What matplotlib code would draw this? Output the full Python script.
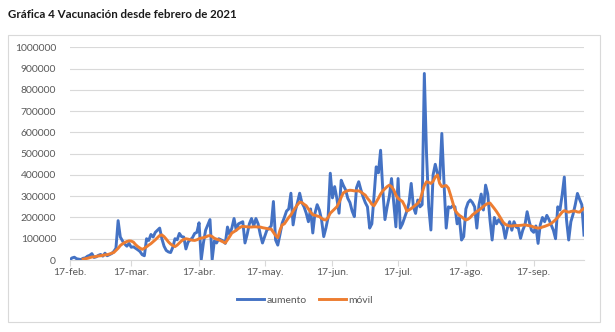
import matplotlib
matplotlib.use("Agg")
import matplotlib.pyplot as plt
import matplotlib.patches as mpatches
import pandas as pd
import numpy as np

start_date = "2021-02-17"

# daily increase (aumento), Feb 17 .. Oct 10, 2021
aumento = [
    2, 10, 13, 6, 4, 2, 8, 10, 18, 22,
    30, 12, 15, 22, 26, 18, 32, 20, 25, 30,
    40, 55, 185, 108, 90, 75, 65, 78, 60, 62,
    55, 48, 40, 25, 20, 100, 92, 120, 108, 130,
    140, 150, 100, 65, 45, 38, 35, 60, 100, 95,
    125, 110, 108, 52, 85, 95, 105, 125, 130, 175,
    2, 80, 140, 165, 190, 2, 90, 80, 100, 95,
    90, 78, 155, 120, 150, 195, 140, 170, 175, 180,
    80, 120, 170, 195, 160, 195, 170, 120, 80, 110,
    140, 150, 160, 275, 94, 70, 120, 173, 200, 230,
    240, 314, 165, 230, 270, 314, 270, 250, 220, 180,
    240, 127, 220, 260, 235, 190, 110, 150, 200, 408,
    292, 345, 290, 220, 375, 350, 330, 290, 270, 230,
    204, 340, 368, 330, 297, 270, 250, 150, 170, 300,
    438, 410, 516, 330, 190, 250, 300, 383, 270, 156,
    383, 150, 170, 200, 230, 270, 360, 250, 219, 282,
    250, 260, 877, 500, 250, 141, 400, 450, 405, 380,
    595, 360, 150, 250, 245, 255, 250, 170, 200, 94,
    110, 240, 270, 282, 270, 250, 150, 260, 310, 235,
    352, 310, 190, 94, 200, 170, 190, 175, 160, 102,
    150, 180, 140, 180, 155, 150, 102, 140, 165, 227,
    180, 140, 130, 160, 78, 165, 200, 180, 210, 190,
    165, 140, 100, 250, 235, 305, 390, 190, 94, 180,
    215, 260, 313, 285, 260, 117,
]
aumento = [v * 1000 for v in aumento]

# 7-day moving average (movil), starts on the 7th day
movil_offset = 6
movil = [
    4, 6, 8, 11, 14, 15, 17, 19, 20, 22,
    24, 25, 28, 32, 35, 45, 55, 68, 76, 82,
    87, 90, 89, 84, 72, 63, 56, 50, 55, 62,
    70, 77, 86, 95, 105, 115, 118, 110, 98, 85,
    75, 68, 63, 70, 80, 90, 97, 100, 98, 95,
    93, 92, 95, 100, 103, 105, 108, 113, 115, 110,
    102, 98, 95, 90, 85, 80, 95, 110, 127, 133,
    140, 148, 155, 158, 157, 156, 155, 155, 156, 156,
    155, 155, 152, 150, 148, 146, 145, 130, 115, 105,
    140, 165, 170, 185, 200, 212, 230, 245, 260, 272,
    270, 262, 255, 240, 225, 213, 210, 207, 204, 196,
    190, 188, 200, 220, 230, 240, 250, 270, 295, 316,
    322, 326, 328, 327, 325, 325, 325, 320, 312, 305,
    290, 278, 262, 255, 272, 290, 310, 325, 335, 345,
    352, 345, 330, 305, 290, 282, 275, 255, 230, 235,
    242, 250, 258, 266, 280, 315, 350, 368, 365, 360,
    370, 390, 400, 360, 345, 348, 350, 338, 305, 270,
    235, 220, 210, 203, 195, 188, 192, 200, 212, 220,
    228, 235, 243, 252, 260, 266, 268, 255, 242, 228,
    212, 195, 178, 168, 163, 160, 160, 161, 162, 162,
    163, 164, 165, 163, 161, 159, 155, 152, 150, 151,
    155, 158, 162, 166, 172, 180, 190, 200, 212, 225,
    232, 228, 225, 228, 230, 230, 226, 225, 235, 243,
]
movil = [v * 1000 for v in movil]

tick_dates = ["2021-02-17", "2021-03-17", "2021-04-17", "2021-05-17",
              "2021-06-17", "2021-07-17", "2021-08-17", "2021-09-17"]
tick_labels = ["17-feb.", "17-mar.", "17-abr.", "17-may.",
               "17-jun.", "17-jul.", "17-ago.", "17-sep."]
y_ticks = [0, 100000, 200000, 300000, 400000, 500000, 600000, 700000,
           800000, 900000, 1000000]

dates = pd.date_range(start_date, periods=len(aumento), freq="D")
movil_dates = dates[movil_offset:movil_offset + len(movil)]

plt.rcParams['font.family'] = ['Lato', 'DejaVu Sans']

W, H = 615, 332
fig = plt.figure(figsize=(W / 100, H / 100), dpi=100)

# chart border
fig.patches.append(mpatches.Rectangle((8 / W, 1 - 322 / H), 592 / W, 287 / H,
                                      transform=fig.transFigure, fill=False,
                                      edgecolor="#d9d9d9", linewidth=0.8))

fig.text(8 / W, 1 - 14 / H, "Gráfica 4 Vacunación desde febrero de 2021",
         fontsize=8.3, fontweight="bold", color="#1a1a1a", va="center", ha="left")

ax = fig.add_axes([70 / W, 1 - 260 / H, (584 - 70) / W, (260 - 47.3) / H])

ax.plot(dates, aumento, color="#4472C4", linewidth=2.1, label="aumento",
        solid_joinstyle="round", zorder=3)
ax.plot(movil_dates, movil, color="#ED7D31", linewidth=2.1, label="móvil",
        solid_joinstyle="round", zorder=4)

ax.set_xlim(dates[0], dates[-1])
ax.set_ylim(0, 1000000)
ax.set_yticks(y_ticks)
ax.set_yticklabels([str(v) for v in y_ticks])
ax.set_xticks(pd.to_datetime(tick_dates))
ax.set_xticklabels(tick_labels)

ax.grid(axis="y", color="#d9d9d9", linewidth=0.8)
ax.set_axisbelow(True)
for s in ["top", "right", "left"]:
    ax.spines[s].set_visible(False)
ax.spines["bottom"].set_color("#d9d9d9")
ax.spines["bottom"].set_linewidth(0.8)
ax.tick_params(axis="y", length=0, pad=10, labelsize=7.5, labelcolor="#595959")
ax.tick_params(axis="x", length=4, color="#d9d9d9", width=0.8, pad=2,
               labelsize=7.5, labelcolor="#595959")

leg = fig.legend(loc="center", bbox_to_anchor=(305 / W, 1 - 300 / H), ncol=2,
                 frameon=False, fontsize=7.5, handlelength=2.6,
                 columnspacing=1.2, handletextpad=0.2)
for t in leg.get_texts():
    t.set_color("#595959")

fig.savefig("out.png", dpi=100)
